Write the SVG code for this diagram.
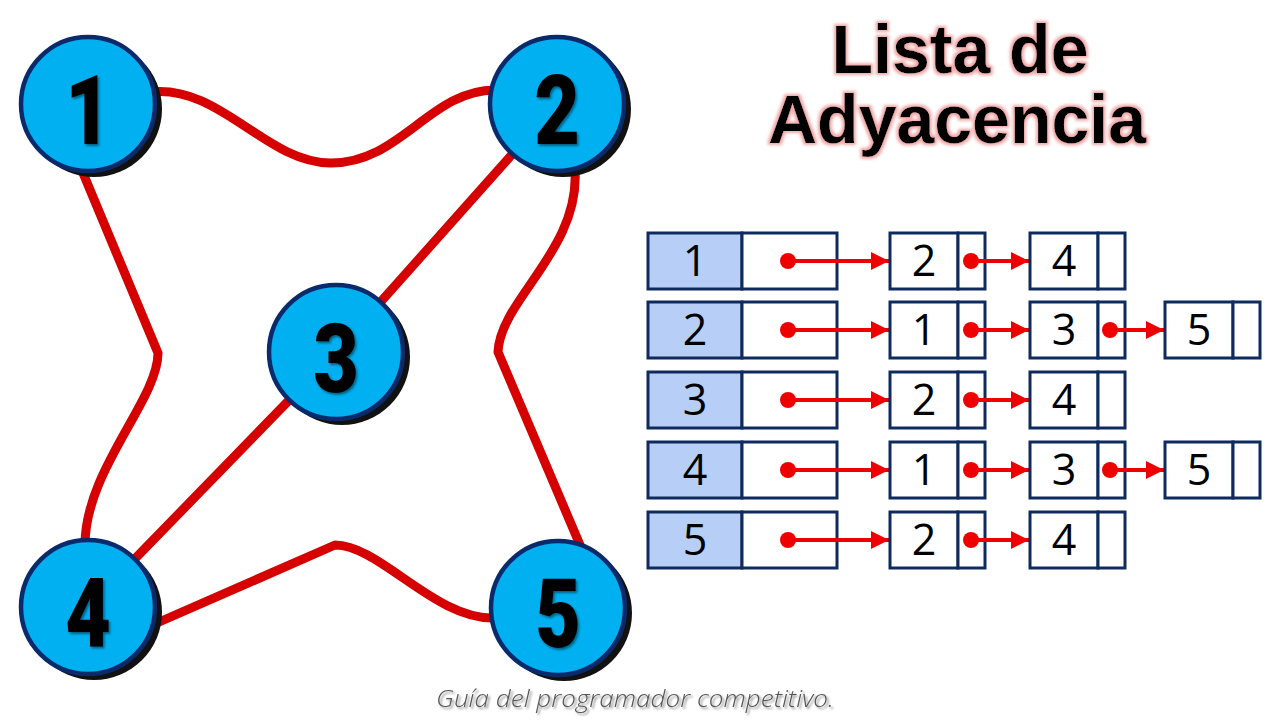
<svg xmlns="http://www.w3.org/2000/svg" width="1280" height="720" viewBox="0 0 1280 720">
  <defs>
    <style>
      .edge { fill: none; stroke: #d60000; stroke-width: 9; stroke-linejoin: round; stroke-linecap: round; }
      .shadow { fill: #111111; }
      .circ { fill: #00b0f0; stroke: #0b2a6b; stroke-width: 4.5; }
      .nlabel { font-family: Roboto, "Liberation Sans", sans-serif; font-weight: 900; font-size: 96px; fill: #000; text-anchor: middle; }
      .title { font-family: "Liberation Sans", Arial, sans-serif; font-weight: bold; font-size: 68px; fill: #000; text-anchor: middle; }
      .head { fill: #b7cff6; stroke: #0f2b5d; stroke-width: 3; }
      .cell { fill: #ffffff; stroke: #0f2b5d; stroke-width: 3; }
      .val { font-family: "Open Sans", "Noto Sans", sans-serif; font-size: 43px; fill: #000; text-anchor: middle; }
      .ptr { stroke: #ee0000; stroke-width: 4; fill: none; }
      .dot { fill: #ee0000; }
      .footer { font-family: "Open Sans", "Noto Sans", sans-serif; font-style: italic; font-weight: 300; font-size: 24px; fill: #555555; }
    </style>
    <marker id="ah" viewBox="0 0 10 10" refX="10" refY="5" markerWidth="5.5" markerHeight="4.5" markerUnits="strokeWidth" orient="auto">
      <path d="M0,0 L10,5 L0,10 Z" fill="#ee0000"/>
    </marker>
    <filter id="glow" x="-10%" y="-20%" width="120%" height="140%">
      <feMorphology in="SourceAlpha" operator="dilate" radius="2" result="d"/>
      <feGaussianBlur in="d" stdDeviation="1.5" result="b"/>
      <feFlood flood-color="#f0a8a8"/>
      <feComposite in2="b" operator="in" result="g"/>
      <feMerge><feMergeNode in="g"/><feMergeNode in="SourceGraphic"/></feMerge>
    </filter>
    <filter id="tsh" x="-20%" y="-20%" width="140%" height="140%">
      <feDropShadow dx="2" dy="2" stdDeviation="1.2" flood-color="#000" flood-opacity="0.45"/>
    </filter>
  </defs>

  <rect width="1280" height="720" fill="#ffffff"/>

  <g id="connectors">
    <path class="edge" d="M150,92 C220,84 265,162 330,163 C400,164 430,90 495,90"/>
    <path class="edge" d="M83,173 L158,353 C158,400 85,470 85,545"/>
    <path class="edge" d="M575,170 C580,250 500,300 498,352 L580,545"/>
    <line class="edge" x1="557" y1="104" x2="336" y2="352"/>
    <line class="edge" x1="336" y1="352" x2="88" y2="607"/>
    <path class="edge" d="M150,626 L335,545 C380,545 435,620 495,618"/>
  </g>

  <g id="node-1">
    <circle class="shadow" cx="94" cy="109" r="68"/>
    <circle class="circ" cx="88" cy="104" r="67"/>
    <text class="nlabel" transform="translate(88,144) scale(0.82,1)" filter="url(#tsh)">1</text>
  </g>
  <g id="node-2">
    <circle class="shadow" cx="563" cy="109" r="68"/>
    <circle class="circ" cx="557" cy="104" r="67"/>
    <text class="nlabel" transform="translate(557,144) scale(0.82,1)" filter="url(#tsh)">2</text>
  </g>
  <g id="node-3">
    <circle class="shadow" cx="342" cy="357" r="68"/>
    <circle class="circ" cx="336" cy="352" r="67"/>
    <text class="nlabel" transform="translate(336,392) scale(0.82,1)" filter="url(#tsh)">3</text>
  </g>
  <g id="node-4">
    <circle class="shadow" cx="94" cy="612" r="68"/>
    <circle class="circ" cx="88" cy="607" r="67"/>
    <text class="nlabel" transform="translate(88,647) scale(0.82,1)" filter="url(#tsh)">4</text>
  </g>
  <g id="node-5">
    <circle class="shadow" cx="564" cy="613" r="68"/>
    <circle class="circ" cx="558" cy="608" r="67"/>
    <text class="nlabel" transform="translate(558,647) scale(0.82,1)" filter="url(#tsh)">5</text>
  </g>

  <g id="title" filter="url(#glow)">
    <text class="title" x="960" y="73">Lista de</text>
    <text class="title" x="957" y="143">Adyacencia</text>
  </g>

  <g id="list-1">
    <rect class="head" x="648" y="233" width="94" height="56"/>
    <rect class="cell" x="742" y="233" width="95" height="56"/>
    <text class="val" x="695" y="276">1</text>
    <line class="ptr" x1="788" y1="261" x2="889" y2="261" marker-end="url(#ah)"/>
    <circle class="dot" cx="788" cy="261" r="8"/>
    <rect class="cell" x="890" y="233" width="68" height="56"/>
    <rect class="cell" x="958" y="233" width="27" height="56"/>
    <text class="val" x="924" y="276">2</text>
    <line class="ptr" x1="971" y1="261" x2="1029" y2="261" marker-end="url(#ah)"/>
    <circle class="dot" cx="971" cy="261" r="8"/>
    <rect class="cell" x="1030" y="233" width="68" height="56"/>
    <rect class="cell" x="1098" y="233" width="27" height="56"/>
    <text class="val" x="1064" y="276">4</text>
  </g>

  <g id="list-2">
    <rect class="head" x="648" y="302" width="94" height="56"/>
    <rect class="cell" x="742" y="302" width="95" height="56"/>
    <text class="val" x="695" y="345">2</text>
    <line class="ptr" x1="788" y1="330" x2="889" y2="330" marker-end="url(#ah)"/>
    <circle class="dot" cx="788" cy="330" r="8"/>
    <rect class="cell" x="890" y="302" width="68" height="56"/>
    <rect class="cell" x="958" y="302" width="27" height="56"/>
    <text class="val" x="924" y="345">1</text>
    <line class="ptr" x1="971" y1="330" x2="1029" y2="330" marker-end="url(#ah)"/>
    <circle class="dot" cx="971" cy="330" r="8"/>
    <rect class="cell" x="1030" y="302" width="68" height="56"/>
    <rect class="cell" x="1098" y="302" width="27" height="56"/>
    <text class="val" x="1064" y="345">3</text>
    <line class="ptr" x1="1110" y1="330" x2="1164" y2="330" marker-end="url(#ah)"/>
    <circle class="dot" cx="1110" cy="330" r="8"/>
    <rect class="cell" x="1165" y="302" width="68" height="56"/>
    <rect class="cell" x="1233" y="302" width="27" height="56"/>
    <text class="val" x="1199" y="345">5</text>
  </g>

  <g id="list-3">
    <rect class="head" x="648" y="372" width="94" height="56"/>
    <rect class="cell" x="742" y="372" width="95" height="56"/>
    <text class="val" x="695" y="415">3</text>
    <line class="ptr" x1="788" y1="400" x2="889" y2="400" marker-end="url(#ah)"/>
    <circle class="dot" cx="788" cy="400" r="8"/>
    <rect class="cell" x="890" y="372" width="68" height="56"/>
    <rect class="cell" x="958" y="372" width="27" height="56"/>
    <text class="val" x="924" y="415">2</text>
    <line class="ptr" x1="971" y1="400" x2="1029" y2="400" marker-end="url(#ah)"/>
    <circle class="dot" cx="971" cy="400" r="8"/>
    <rect class="cell" x="1030" y="372" width="68" height="56"/>
    <rect class="cell" x="1098" y="372" width="27" height="56"/>
    <text class="val" x="1064" y="415">4</text>
  </g>

  <g id="list-4">
    <rect class="head" x="648" y="442" width="94" height="56"/>
    <rect class="cell" x="742" y="442" width="95" height="56"/>
    <text class="val" x="695" y="485">4</text>
    <line class="ptr" x1="788" y1="470" x2="889" y2="470" marker-end="url(#ah)"/>
    <circle class="dot" cx="788" cy="470" r="8"/>
    <rect class="cell" x="890" y="442" width="68" height="56"/>
    <rect class="cell" x="958" y="442" width="27" height="56"/>
    <text class="val" x="924" y="485">1</text>
    <line class="ptr" x1="971" y1="470" x2="1029" y2="470" marker-end="url(#ah)"/>
    <circle class="dot" cx="971" cy="470" r="8"/>
    <rect class="cell" x="1030" y="442" width="68" height="56"/>
    <rect class="cell" x="1098" y="442" width="27" height="56"/>
    <text class="val" x="1064" y="485">3</text>
    <line class="ptr" x1="1110" y1="470" x2="1164" y2="470" marker-end="url(#ah)"/>
    <circle class="dot" cx="1110" cy="470" r="8"/>
    <rect class="cell" x="1165" y="442" width="68" height="56"/>
    <rect class="cell" x="1233" y="442" width="27" height="56"/>
    <text class="val" x="1199" y="485">5</text>
  </g>

  <g id="list-5">
    <rect class="head" x="648" y="512" width="94" height="56"/>
    <rect class="cell" x="742" y="512" width="95" height="56"/>
    <text class="val" x="695" y="555">5</text>
    <line class="ptr" x1="788" y1="540" x2="889" y2="540" marker-end="url(#ah)"/>
    <circle class="dot" cx="788" cy="540" r="8"/>
    <rect class="cell" x="890" y="512" width="68" height="56"/>
    <rect class="cell" x="958" y="512" width="27" height="56"/>
    <text class="val" x="924" y="555">2</text>
    <line class="ptr" x1="971" y1="540" x2="1029" y2="540" marker-end="url(#ah)"/>
    <circle class="dot" cx="971" cy="540" r="8"/>
    <rect class="cell" x="1030" y="512" width="68" height="56"/>
    <rect class="cell" x="1098" y="512" width="27" height="56"/>
    <text class="val" x="1064" y="555">4</text>
  </g>

  <text class="footer" x="436" y="707" textLength="398" lengthAdjust="spacingAndGlyphs" filter="url(#tsh)">Guía del programador competitivo.</text>
</svg>
